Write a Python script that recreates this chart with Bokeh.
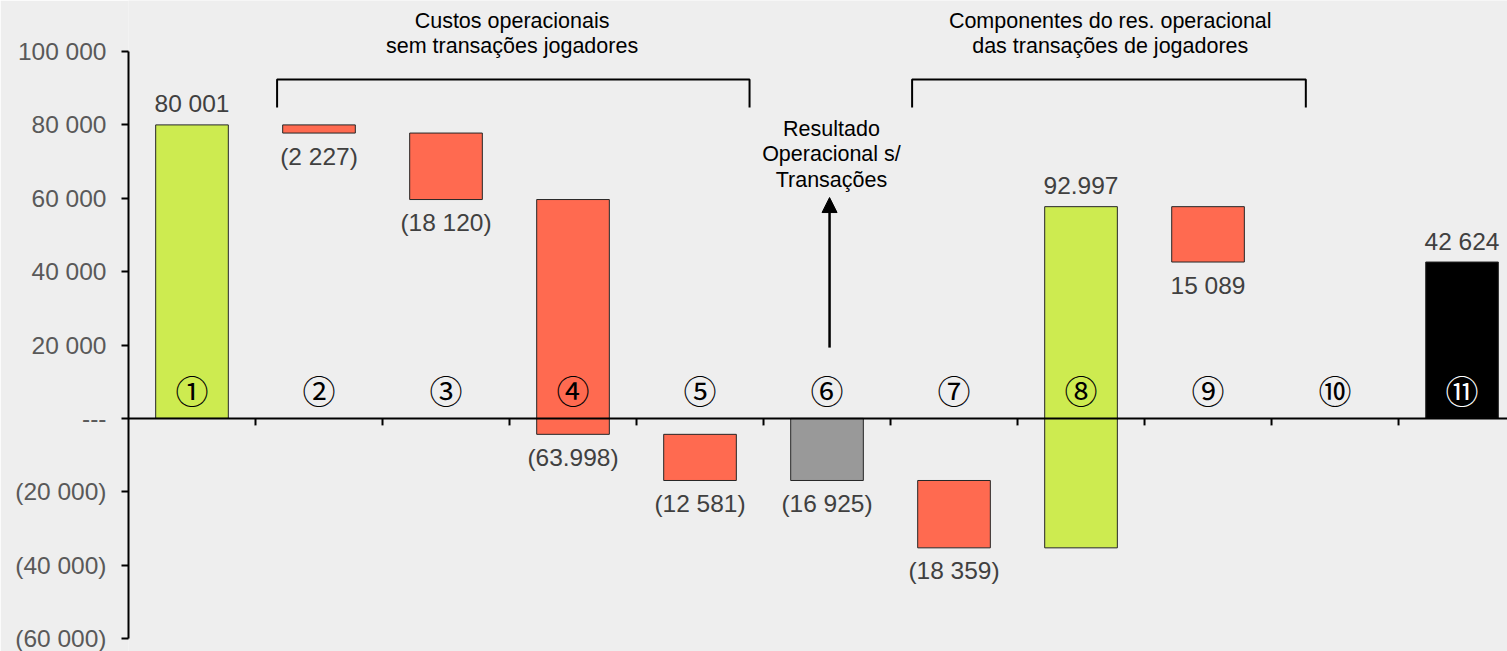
from bokeh.plotting import figure
from bokeh.models import ColumnDataSource, FixedTicker, Span, Arrow, NormalHead, Range1d
from bokeh.core.properties import value
from bokeh.embed import file_html
from bokeh.resources import INLINE

# ---------------- data ----------------
categories = [1, 2, 3, 4, 5, 6, 7, 8, 9, 10, 11]
circled = ["①", "②", "③", "④", "⑤", "⑥", "⑦", "⑧", "⑨", "⑩", "⑪"]
amounts = [80001, -2227, -18120, -63998, -12581, -16925, -18359, 92997, -15089, 0, 42624]
kinds = ["start", "decrease", "decrease", "decrease", "decrease", "subtotal",
         "decrease", "increase", "decrease", "blank", "total"]
value_labels = ["80 001", "(2 227)", "(18 120)", "(63.998)", "(12 581)", "(16 925)",
                "(18 359)", "92.997", "15 089", "", "42 624"]
ytick_values = [-60000, -40000, -20000, 0, 20000, 40000, 60000, 80000, 100000]
ytick_labels = ["(60 000)", "(40 000)", "(20 000)", "---", "20 000", "40 000",
                "60 000", "80 000", "100 000"]
group_titles = [["Custos operacionais", "sem transações jogadores"],
                ["Componentes do res. operacional", "das transações de jogadores"]]
arrow_note = ["Resultado", "Operacional s/", "Transações"]

# ---------------- styles / layout ----------------
FILL = {"start": "#CDEB50", "increase": "#CDEB50", "decrease": "#FF6A50",
        "subtotal": "#999999", "total": "#000000"}
BG = "#EEEEEE"
FONT = "Liberation Sans"
BAR_W = 0.572
PX_PER_UNIT = 587 / 160000.0

# waterfall geometry from the values
bx, btop, bbot, bfill = [], [], [], []
lx, ly, ltxt, loff = [], [], [], []
running = 0
for c, a, k, lab in zip(categories, amounts, kinds, value_labels):
    if k == "blank":
        continue
    if k in ("start", "subtotal", "total"):
        b, t = 0, a
        running = a
    else:
        b = running
        running = running + a
        t = running
    bx.append(c); btop.append(t); bbot.append(b); bfill.append(FILL[k])
    lx.append(c); ltxt.append(lab)
    if k in ("start", "increase", "total"):
        ly.append(max(t, b)); loff.append(-21)
    else:
        ly.append(min(t, b)); loff.append(23)

bars = ColumnDataSource(dict(x=bx, top=btop, bottom=bbot, fill=bfill))
labels = ColumnDataSource(dict(x=lx, y=ly, text=ltxt, off=loff))

p = figure(width=1507, height=651, output_backend="svg", toolbar_location=None,
           x_range=Range1d(0.5, 11.358), y_range=Range1d(-63535, 113906),
           x_axis_location=None, min_border_left=128, min_border_right=0,
           min_border_top=0, min_border_bottom=0)
p.background_fill_color = BG
p.border_fill_color = BG
p.outline_line_color = None
p.grid.grid_line_color = None

p.vbar(x="x", top="top", bottom="bottom", width=BAR_W, fill_color="fill",
       line_color="#262626", line_width=1, source=bars)

p.text(x="x", y="y", text="text", y_offset="off", source=labels,
       text_font=value(FONT), text_font_size="24.5px", text_color="#404040",
       text_align="center", text_baseline="middle")

# circled numbers row
circ_colors = ["#FFFFFF" if k == "total" else "#000000" for k in kinds]
p.text(x=categories, y=[7605] * len(categories), text=circled, text_color=circ_colors,
       text_font=value("Noto Sans CJK JP"), text_font_size="33px",
       text_align="center", text_baseline="middle")

# zero axis line with category ticks
p.add_layout(Span(location=0, dimension="width", line_color="#000000", line_width=2))
tick_x = [c + 0.5 for c in categories[:-1]]
p.segment(x0=tick_x, x1=tick_x, y0=[0] * len(tick_x), y1=[-7 / PX_PER_UNIT] * len(tick_x),
          line_color="#000000", line_width=2)

# y axis
ya = p.yaxis[0]
ya.ticker = FixedTicker(ticks=ytick_values)
ya.major_label_overrides = {v: s for v, s in zip(ytick_values, ytick_labels)}
ya.bounds = (ytick_values[0], ytick_values[-1])
ya.axis_line_color = "#000000"
ya.axis_line_width = 2
ya.major_tick_line_color = "#000000"
ya.major_tick_line_width = 2
ya.major_tick_in = 0
ya.major_tick_out = 7
ya.minor_tick_line_color = None
ya.major_label_standoff = 15
ya.major_label_text_font = FONT
ya.major_label_text_font_size = "24.5px"
ya.major_label_text_color = "#595959"

# group brackets and titles
bracket_x = [(1.67, 5.39), (6.67, 9.77)]
bracket_top, bracket_bottom = 92370, 84740
p.multi_line(xs=[[a, a, b, b] for a, b in bracket_x],
             ys=[[bracket_bottom, bracket_top, bracket_top, bracket_bottom]] * 2,
             line_color="#000000", line_width=2)
title_x = [3.52, 8.23]
title_y = [108264, 101450]
for tx, lines in zip(title_x, group_titles):
    p.text(x=[tx] * len(lines), y=title_y, text=lines, text_font=value(FONT),
           text_font_size="21.5px", text_color="#000000", text_align="center",
           text_baseline="middle")

# arrow with note
p.add_layout(Arrow(x_start=6.02, y_start=19300, x_end=6.02, y_end=60200,
                   line_width=2.5, line_color="#000000",
                   end=NormalHead(size=15, fill_color="#000000", line_color="#000000")))
note_y = [78829, 72015, 64928]
p.text(x=[6.035] * 3, y=note_y, text=arrow_note, text_font=value(FONT),
       text_font_size="21.5px", text_color="#000000", text_align="center",
       text_baseline="middle")

open("out.html", "w").write(file_html(p, INLINE))
